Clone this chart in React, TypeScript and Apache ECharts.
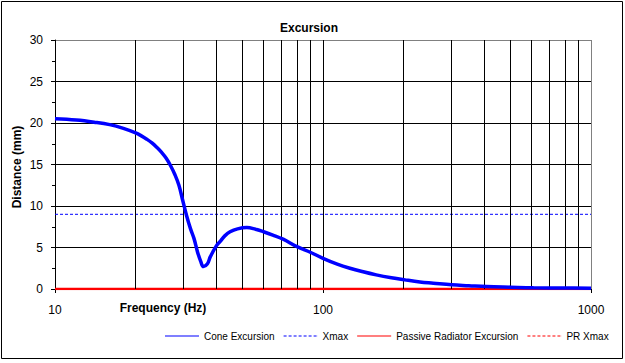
import React, { useEffect, useRef } from "react";
import * as echarts from "echarts";

const coneFreq = [10, 12, 14, 16, 18, 20, 21, 22, 23, 24, 25, 26, 27, 28, 29, 30, 31, 32, 33, 34, 35, 35.8, 37, 38, 40, 41.5, 43, 45, 48, 52, 56, 60, 65, 71, 80, 90, 100, 113, 126, 140, 158, 180, 202, 230, 258, 302, 350, 408, 500, 610, 800, 1000];
const coneExcursion = [20.5, 20.35, 20.1, 19.8, 19.35, 18.8, 18.45, 18.05, 17.6, 17.05, 16.45, 15.75, 14.85, 13.8, 12.5, 10.6, 8.8, 7.3, 6.1, 4.5, 3.3, 2.7, 3.0, 3.9, 5.2, 5.8, 6.4, 6.9, 7.25, 7.4, 7.2, 6.9, 6.5, 6.0, 5.1, 4.4, 3.7, 3.0, 2.5, 2.1, 1.7, 1.35, 1.1, 0.85, 0.7, 0.5, 0.4, 0.3, 0.22, 0.15, 0.12, 0.1];
const lineFreq = [10, 1000];
const xmax = [9, 9];
const prExcursion = [0, 0];
const prXmax = [0, 0];
const gridFreqs = [20, 30, 40, 50, 60, 70, 80, 90, 200, 300, 400, 500, 600, 700, 800, 900];
const seriesNames = ["Cone Excursion", "Xmax", "Passive Radiator Excursion", "PR Xmax"];

const FONT = "'Liberation Sans', Arial, sans-serif";

const solidIcon = "path://M0,0h34v1h-34z";
const dashedIcon =
  "path://" +
  [0, 5, 10, 15, 20, 25, 30].map((s) => `M${s},0h3v1h-3z`).join("") +
  "M33.9,0h0.1v1h-0.1z";

export default function App() {
  const ref = useRef<HTMLDivElement>(null);
  useEffect(() => {
    if (!ref.current) return;
    const chart = echarts.init(ref.current, undefined, { renderer: "svg" });
    const pair = (xs: number[], ys: number[]) => xs.map((x, i) => [x, ys[i]]);
    chart.setOption({
      animation: false,
      backgroundColor: "#fff",
      textStyle: { fontFamily: FONT },
      title: {
        text: "Excursion",
        left: 304,
        top: 17,
        textAlign: "center",
        textStyle: { fontSize: 12, fontWeight: "bold", color: "#000", fontFamily: FONT },
      },
      grid: { left: 55, top: 40, right: 34, bottom: 74 },
      legend: {
        data: seriesNames.map((n, i) => ({ name: n, icon: i % 2 === 0 ? solidIcon : dashedIcon })),
        left: 160,
        top: 326,
        itemWidth: 34,
        itemHeight: 1,
        itemGap: 9,
        textStyle: { fontSize: 10, color: "#000", fontFamily: FONT },
      },
      xAxis: {
        type: "log",
        min: 10,
        max: 1000,
        logBase: 10,
        axisLine: { lineStyle: { color: "#000" } },
        axisTick: { show: true, length: 4, lineStyle: { color: "#000" } },
        axisLabel: {
          fontSize: 12,
          color: "#000",
          margin: 15,
          fontFamily: FONT,
          formatter: (v: number) => String(Math.round(v)),
        },
        splitLine: { show: true, lineStyle: { color: ["#000", "#000", "#808080"], width: 1 } },
      },
      yAxis: {
        type: "value",
        min: 0,
        max: 30,
        interval: 5,
        axisLine: { show: true, lineStyle: { color: "#000" } },
        axisTick: { show: true, length: 4, lineStyle: { color: "#000" } },
        minorTick: { show: true, splitNumber: 2, length: 3, lineStyle: { color: "#000" } },
        axisLabel: { fontSize: 12, color: "#000", margin: 12, fontFamily: FONT },
        splitLine: {
          show: true,
          lineStyle: { color: ["#000", "#000", "#000", "#000", "#000", "#000", "#808080"], width: 1 },
        },
      },
      graphic: [
        {
          type: "rect",
          shape: { x: 1.5, y: 1.5, width: 621, height: 357 },
          style: { fill: "none", stroke: "#000", lineWidth: 1 },
          silent: true,
          z: 100,
        },
        {
          type: "text",
          x: 163,
          y: 308,
          style: {
            text: "Frequency (Hz)",
            fontSize: 12,
            fontWeight: "bold",
            fontFamily: FONT,
            fill: "#000",
            align: "center",
            verticalAlign: "middle",
          },
        },
        {
          type: "text",
          x: 17,
          y: 167,
          rotation: Math.PI / 2,
          style: {
            text: "Distance (mm)",
            fontSize: 12,
            fontWeight: "bold",
            fontFamily: FONT,
            fill: "#000",
            align: "center",
            verticalAlign: "middle",
          },
        },
      ],
      series: [
        {
          name: "gridlines",
          type: "line",
          data: [],
          z: 1,
          silent: true,
          markLine: {
            silent: true,
            symbol: "none",
            label: { show: false },
            lineStyle: { color: "#000", width: 1, type: "solid" },
            data: gridFreqs.map((f) => ({ xAxis: f })),
          },
        },
        {
          name: seriesNames[0],
          type: "line",
          data: pair(coneFreq, coneExcursion),
          showSymbol: false,
          symbol: "none",
          smooth: 0.4,
          z: 5,
          lineStyle: { color: "#0000ff", width: 3.5 },
          itemStyle: { color: "#0000ff" },
        },
        {
          name: seriesNames[1],
          type: "line",
          data: pair(lineFreq, xmax),
          symbol: "none",
          z: 3,
          lineStyle: { color: "#0000ff", width: 1, type: [3, 2] },
          itemStyle: { color: "#0000ff" },
        },
        {
          name: seriesNames[2],
          type: "line",
          data: pair(lineFreq, prExcursion),
          symbol: "none",
          z: 4,
          lineStyle: { color: "#ff0000", width: 2.5 },
          itemStyle: { color: "#ff0000" },
        },
        {
          name: seriesNames[3],
          type: "line",
          data: pair(lineFreq, prXmax),
          symbol: "none",
          z: 2,
          lineStyle: { color: "#ff0000", width: 1, type: [3, 2] },
          itemStyle: { color: "#ff0000" },
        },
      ],
    });
    return () => chart.dispose();
  }, []);
  return <div ref={ref} style={{ position: "fixed", left: 0, top: 0, width: 625, height: 363 }} />;
}
